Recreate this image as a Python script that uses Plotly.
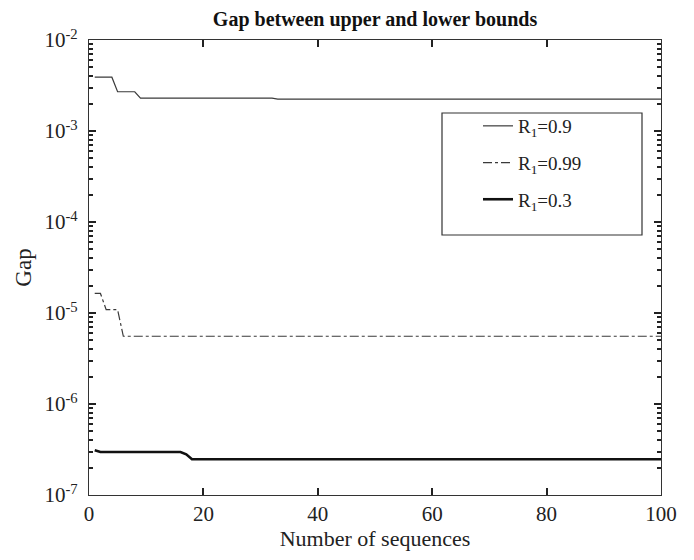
import plotly.graph_objects as go

# data
x_09 = [1, 4, 5, 8, 9, 32, 33, 100]
y_09 = [3.9e-3, 3.9e-3, 2.7e-3, 2.7e-3, 2.3e-3, 2.3e-3, 2.24e-3, 2.24e-3]

x_099 = [1, 2, 3, 5, 6, 100]
y_099 = [1.64e-5, 1.64e-5, 1.09e-5, 1.09e-5, 5.55e-6, 5.55e-6]

x_03 = [1, 2, 16, 17, 18, 100]
y_03 = [3.1e-7, 2.97e-7, 2.97e-7, 2.8e-7, 2.47e-7, 2.47e-7]

names = ["R<sub>1</sub>=0.9", "R<sub>1</sub>=0.99", "R<sub>1</sub>=0.3"]
y_tickvals = [1e-7, 1e-6, 1e-5, 1e-4, 1e-3, 1e-2]
y_ticktext = ["10<sup>-7</sup>", "10<sup>-6</sup>", "10<sup>-5</sup>",
              "10<sup>-4</sup>", "10<sup>-3</sup>", "10<sup>-2</sup>"]
x_tickvals = [0, 20, 40, 60, 80, 100]

FONT = "Liberation Serif, Times New Roman, serif"

# the page has an 8px body margin, so the figure is sized to fit the window
W, H = 686, 552
L, R, T, B = 81, 33, 32, 65
PW = W - L - R

fig = go.Figure()
fig.add_trace(go.Scatter(x=x_09, y=y_09, mode="lines", name=names[0],
                         line=dict(color="#3a3a3a", width=1.2), legendgroup="a"))
fig.add_trace(go.Scatter(x=x_099, y=y_099, mode="lines", name=names[1],
                         line=dict(color="#3a3a3a", width=1.2, dash="dashdot"), legendgroup="b"))
fig.add_trace(go.Scatter(x=x_03, y=y_03, mode="lines", name=names[2],
                         line=dict(color="#111111", width=2.6), legendgroup="c"))

axis_common = dict(showline=True, linecolor="#333333", linewidth=1.2, mirror="ticks",
                   ticks="inside", tickcolor="#222222", tickwidth=2, showgrid=False, zeroline=False,
                   tickfont=dict(family=FONT, size=21, color="#222222"))

fig.update_xaxes(range=[0, 100], tickmode="array", tickvals=x_tickvals, ticklen=7,
                 title=dict(text="Number of sequences", font=dict(family=FONT, size=22, color="#222222"), standoff=4),
                 **axis_common)
fig.update_yaxes(type="log", range=[-7, -2], tickmode="array", tickvals=y_tickvals, ticktext=y_ticktext,
                 ticklen=7, ticklabelstandoff=6,
                 minor=dict(ticks="inside", ticklen=4, tickcolor="#222222", tickwidth=1.5,
                            dtick="D1", showgrid=False),
                 title=dict(text="Gap", font=dict(family=FONT, size=23, color="#222222"), standoff=6),
                 **axis_common)

# legend frame (plot-area fractions of the reference box)
fig.add_shape(type="rect", xref="paper", yref="paper",
              x0=(442 - 89) / 572, x1=(642 - 89) / 572,
              y0=(495 - 235) / 455, y1=(495 - 113) / 455,
              line=dict(color="#333333", width=1.2), fillcolor="white", layer="below")

fig.update_layout(
    width=W, height=H,
    margin=dict(l=L, r=R, t=T, b=B),
    paper_bgcolor="white", plot_bgcolor="white",
    title=dict(text="<b>Gap between upper and lower bounds</b>", x=(L + PW / 2) / W, xanchor="center",
               y=1 - 11 / H, yanchor="middle", font=dict(family=FONT, size=20, color="#111111")),
    showlegend=True,
    legend=dict(x=(478 - 89) / 572, y=(495 - 107) / 455, xanchor="left", yanchor="top",
                bgcolor="rgba(0,0,0,0)", borderwidth=0, tracegroupgap=9,
                font=dict(family=FONT, size=19, color="#222222")),
)

fig.write_html("out.html")
